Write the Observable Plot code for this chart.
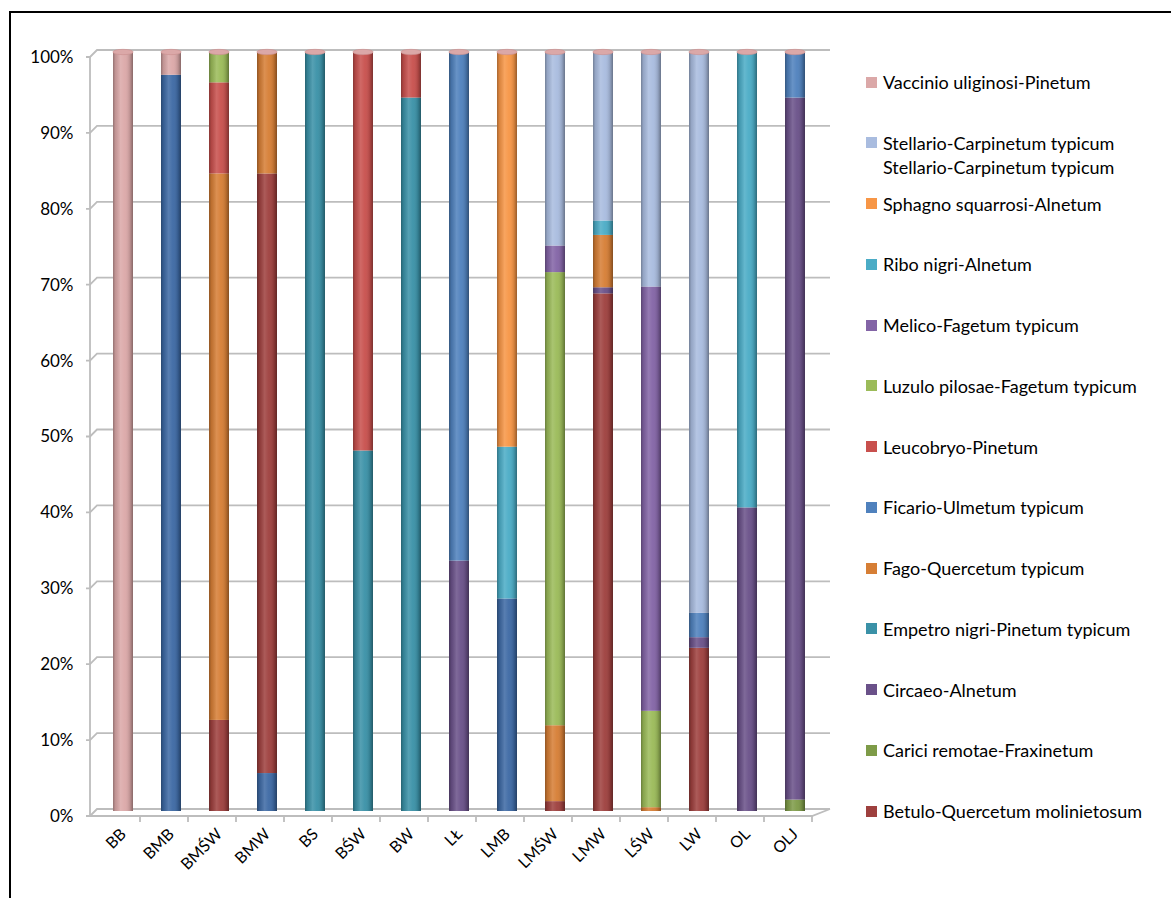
<!DOCTYPE html>
<html><head><meta charset="utf-8">
<script src="https://cdn.jsdelivr.net/npm/d3@7"></script>
<script src="https://cdn.jsdelivr.net/npm/@observablehq/plot@0.6"></script>
<style>
body{margin:0;background:#fff;font-family:Lato,"Open Sans",sans-serif;}
#page{position:relative;width:1171px;height:898px;overflow:hidden;background:#fff;}
#frame{position:absolute;left:9px;top:11px;width:1200px;height:900px;border-top:2px solid #000;border-left:2px solid #000;}
#chart{position:absolute;left:0;top:0;}
.sw{position:absolute;left:866px;width:11px;height:11px;}
.lt{position:absolute;left:883px;font-size:18px;line-height:24px;color:#000;white-space:nowrap;}
</style>
</head><body>
<div id="page"><div id="frame"></div><div id="chart"></div><div id="legend"></div></div>
<script>
const categories = ["BB","BMB","BMŚW","BMW","BS","BŚW","BW","LŁ","LMB","LMŚW","LMW","LŚW","LW","OL","OLJ"];
const seriesNames = ["Seria 1","Betulo-Quercetum molinietosum","Carici remotae-Fraxinetum","Circaeo-Alnetum","Empetro nigri-Pinetum typicum","Fago-Quercetum typicum","Ficario-Ulmetum typicum","Leucobryo-Pinetum","Luzulo pilosae-Fagetum typicum","Melico-Fagetum typicum","Ribo nigri-Alnetum","Sphagno squarrosi-Alnetum","Stellario-Carpinetum typicum","Vaccinio uliginosi-Pinetum"];
const seriesColors = ["#3d69a4","#9e403e","#7e9b48","#6a5189","#3a91a7","#d67e35","#4f81bd","#c8504d","#9bbb59","#8364a6","#4bacc6","#f79646","#a9bcdf","#dba8a8"];
// values in % per category (order as categories)
const seria1      = [0,97,0,5,0,0,0,0,28,0,0,0,0,0,0];
const betulo      = [0,0,12,79,0,0,0,0,0,1.3,68.2,0,21.5,0,0];
const carici      = [0,0,0,0,0,0,0,0,0,0,0,0,0,0,1.5];
const circaeo     = [0,0,0,0,0,0,0,33,0,0,0.8,0,1.4,40,92.5];
const empetro     = [0,0,0,0,100,47.5,94,0,0,0,0,0,0,0,0];
const fago        = [0,0,72,16,0,0,0,0,0,10,6.9,0.5,0,0,0];
const ficario     = [0,0,0,0,0,0,0,67,0,0,0,0,3.2,0,6];
const leucobryo   = [0,0,12,0,0,52.5,6,0,0,0,0,0,0,0,0];
const luzulo      = [0,0,4,0,0,0,0,0,0,59.7,0,12.7,0,0,0];
const melico      = [0,0,0,0,0,0,0,0,0,3.5,0,55.9,0,0,0];
const ribo        = [0,0,0,0,0,0,0,0,20,0,1.9,0,0,60,0];
const sphagno     = [0,0,0,0,0,0,0,0,52,0,0,0,0,0,0];
const stellario   = [0,0,0,0,0,0,0,0,0,25.5,22.2,30.9,73.9,0,0];
const vaccinio    = [100,3,0,0,0,0,0,0,0,0,0,0,0,0,0];
const yTicks = [0,10,20,30,40,50,60,70,80,90,100];
const legendOrder = ["Vaccinio uliginosi-Pinetum","Stellario-Carpinetum typicum","Sphagno squarrosi-Alnetum","Ribo nigri-Alnetum","Melico-Fagetum typicum","Luzulo pilosae-Fagetum typicum","Leucobryo-Pinetum","Ficario-Ulmetum typicum","Fago-Quercetum typicum","Empetro nigri-Pinetum typicum","Circaeo-Alnetum","Carici remotae-Fraxinetum","Betulo-Quercetum molinietosum"];

const seriesValues = [seria1,betulo,carici,circaeo,empetro,fago,ficario,leucobryo,luzulo,melico,ribo,sphagno,stellario,vaccinio];
const data = seriesNames.flatMap((s,i) => categories.map((c,j) => ({cat:c, series:s, value:seriesValues[i][j]}))).filter(d => d.value > 0);
const caps = categories.map((c,j) => ({cat:c, total: d3.sum(seriesValues, v => v[j])}));
const colorOf = new Map(seriesNames.map((s,i)=>[s,seriesColors[i]]));

const plot = Plot.plot({
  width: 840, height: 880,
  marginTop: 52, marginBottom: 69, marginLeft: 99, marginRight: 21,
  x: {domain: categories, paddingInner: 0.58, paddingOuter: 0.29, label: null},
  y: {domain: [0,100], label: null},
  color: {domain: seriesNames, range: seriesColors},
  style: {fontFamily: "Lato, 'Open Sans', sans-serif", fontSize: "16px", color: "#000", background: "transparent", overflow: "visible"},
  marks: [
    Plot.axisY({ticks: yTicks, tickFormat: d => d + "%", tickSize: 0, tickPadding: 26, dy: 5, fontSize: 17, label: null}),
    Plot.axisX({tickSize: 0, tickRotate: -45, tickPadding: 20, dx: 0, fontSize: 16, label: null}),
    Plot.barY(data, {x: "cat", y: "value", fill: "series", order: seriesNames}),
    Plot.barY(data, {x: "cat", y: "value", z: "series", fill: "url(#cyl)", order: seriesNames}),
    Plot.barY(caps, {x: "cat", y1: d => d.total - 0.35, y2: d => d.total + 0.35, fill: colorOf.get("Vaccinio uliginosi-Pinetum"), stroke: "#c98f8f", strokeWidth: 0.6, rx: 10, ry: 2.5})
  ]
});

// defs + 3D-style wall/floor grid drawn from the plot's own scales
const ys = plot.scale("y"), xs = plot.scale("x");
const defs = d3.create("svg:defs");
const grad = defs.append("linearGradient").attr("id","cyl").attr("x1","0").attr("x2","1").attr("y1","0").attr("y2","0");
[[0,"#000",0.32],[0.12,"#000",0.12],[0.38,"#fff",0.14],[0.6,"#fff",0.04],[0.85,"#000",0.14],[1,"#000",0.38]].forEach(([o,c,a]) =>
  grad.append("stop").attr("offset",o).attr("stop-color",c).attr("stop-opacity",a));
const g = d3.create("svg:g").attr("fill","none").attr("stroke","#bdbdbd").attr("stroke-width",1.8);
const y0f = ys.apply(0) + 5;
yTicks.forEach(t => {
  const py = ys.apply(t) + 5;
  g.append("path").attr("d", `M86,${py}H90L97,${py-7}H830`);
});
g.append("path").attr("d", `M90,${ys.apply(100)+5}V${y0f}`);
g.append("path").attr("d", `M90,${y0f}H812L830,${y0f-7}`);
categories.forEach(c => {
  const bx = xs.apply(c) + xs.bandwidth/2 + xs.step/2 - 7;
  g.append("path").attr("d", `M${bx},${y0f}V${y0f+6}`);
});
const firstMark = plot.querySelector("style") ? plot.querySelector("style").nextSibling : plot.firstChild;
plot.insertBefore(defs.node(), firstMark);
plot.insertBefore(g.node(), firstMark);
document.getElementById("chart").appendChild(plot);

// legend
const leg = document.getElementById("legend");
legendOrder.forEach((s,i) => {
  const yc = 82 + i*60.75;
  const sw = document.createElement("div");
  sw.className = "sw"; sw.style.top = (yc-5.5)+"px"; sw.style.background = colorOf.get(s);
  leg.appendChild(sw);
  const t = document.createElement("div");
  t.className = "lt"; t.style.top = (yc-12)+"px";
  t.innerHTML = s === "Stellario-Carpinetum typicum" ? s + "<br>" + s : s;
  leg.appendChild(t);
});
</script>
</body></html>
